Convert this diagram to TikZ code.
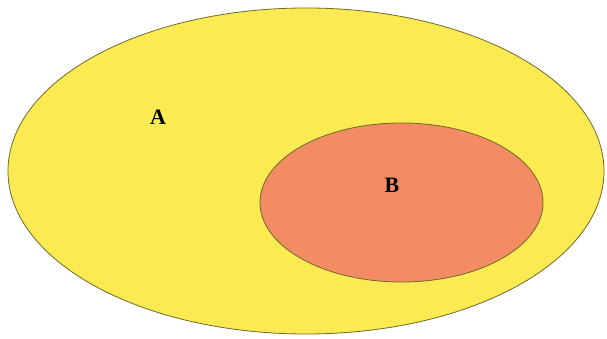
\documentclass[tikz,border=0pt]{standalone}
\usepackage{fontspec}
\setmainfont{Liberation Serif}
\usetikzlibrary{shapes, positioning}
\definecolor{setyellow}{HTML}{FCEA52}
\definecolor{setorange}{HTML}{F38C62}
\definecolor{setedge}{HTML}{6E6A2A}

\begin{document}
\begin{tikzpicture}[
      x=1pt, y=1pt,
      set/.style={ellipse, draw=setedge, line width=0.8pt, inner sep=0pt},
      lbl/.style={font=\fontsize{22}{26}\selectfont\bfseries, text=black}
    ]
      \useasboundingbox (0,0) rectangle (607,339);
      \node[set, fill=setyellow, minimum width=596pt, minimum height=326pt] (setA) at (306,168) {};
      \node[set, fill=setorange, minimum width=283pt, minimum height=159pt] (setB) at (401.5,136.5) {};
      
      \node[lbl] (labelA) at (158,222) {A};
      \node[lbl] (labelB) at (392,154) {B};
    \end{tikzpicture}
\end{document}
